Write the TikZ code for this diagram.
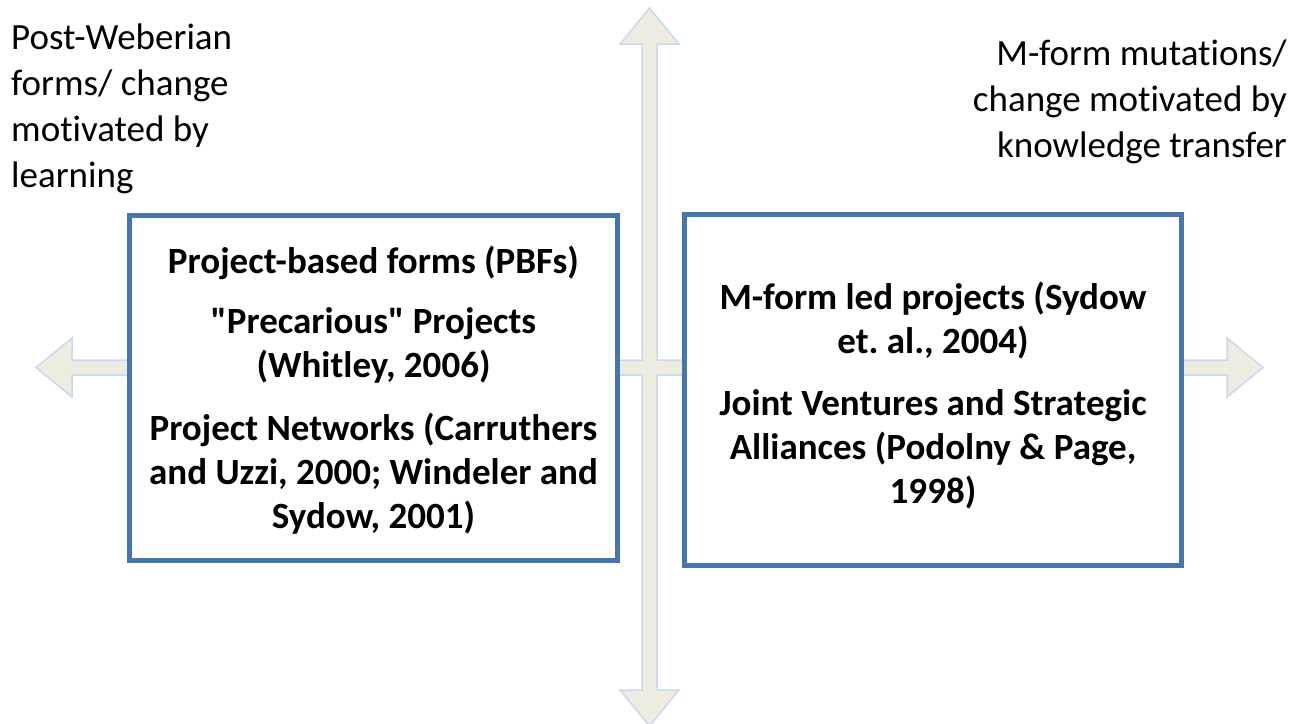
\documentclass[tikz,border=0pt]{standalone}
\usepackage{fontspec}
\setmainfont{Carlito}[Ligatures={TeXOff,NoCommon}]

\definecolor{boxblue}{RGB}{72,117,171}
\definecolor{crossfill}{RGB}{238,236,225}
\definecolor{crossline}{RGB}{198,217,241}

\tikzset{
  formbox/.style={draw=boxblue, line width=4.5pt, fill=white, inner sep=0pt},
  boxtext/.style={align=center, inner sep=0pt, font=\bfseries\fontsize{37}{44}\selectfont},
  cornertext/.style={inner sep=0pt, font=\fontsize{37}{46}\selectfont}
}

\begin{document}
\begin{tikzpicture}[x=1pt, y=-1pt]
\useasboundingbox (0,0) rectangle (1301,723);

% four-way arrow, drawn first so the boxes sit on it
\begin{scope}[draw=crossline, fill=crossfill, line width=1.5pt]
\filldraw (649.5,8) -- (679,44) -- (657,44) -- (657,360) -- (1227,360)
  -- (1227,338) -- (1263,367.5) -- (1227,397) -- (1227,375) -- (657,375)
  -- (657,690) -- (679,690) -- (649.5,726) -- (620,690) -- (642,690)
  -- (642,375) -- (72,375) -- (72,397) -- (36,367.5) -- (72,338)
  -- (72,360) -- (642,360) -- (642,44) -- (620,44) -- cycle;
\end{scope}

\node[formbox, minimum width=488, minimum height=345] (box1) at (373.5,388) {};
\node[boxtext] (txt1) at ([yshift=-2pt]box1.center)
  {Project-based forms (PBFs)\\[16pt]
   "Precarious" Projects\\(Whitley, 2006)\\[19pt]
   Project Networks (Carruthers\\and Uzzi, 2000; Windeler and\\Sydow, 2001)};

\node[formbox, minimum width=497, minimum height=351] (box2) at (933,390) {};
\node[boxtext] (txt2) at ([yshift=-6pt]box2.center)
  {M-form led projects (Sydow\\et.\ al., 2004)\\[18pt]
   Joint Ventures and Strategic\\Alliances (Podolny \& Page,\\1998)};

\node[cornertext, anchor=base west, align=left] (t1) at (11,187)
  {Post-Weberian\\forms/ change\\motivated by\\learning};
\node[cornertext, anchor=base east, align=right] (t2) at (1287,157)
  {M-form mutations/\\change motivated by\\knowledge transfer};
\end{tikzpicture}
\end{document}
